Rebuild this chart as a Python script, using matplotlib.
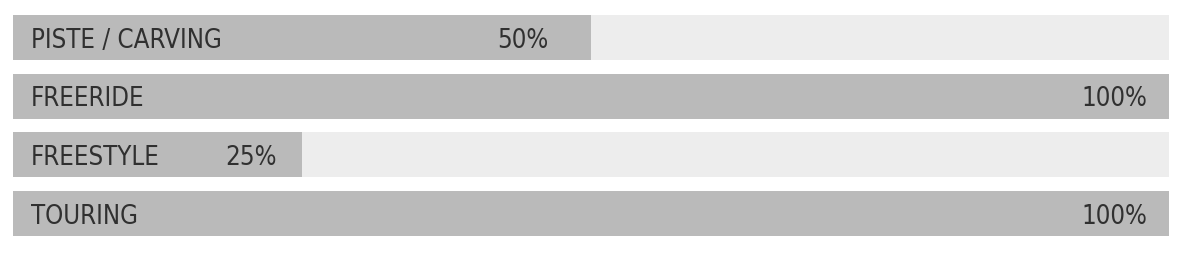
import matplotlib.pyplot as plt
import numpy as np

# ski usage ratings
categories = ["PISTE / CARVING", "FREERIDE", "FREESTYLE", "TOURING"]
values = [50, 100, 25, 100]
value_labels = ["50%", "100%", "25%", "100%"]

W, H = 1200, 262
fig = plt.figure(figsize=(W / 100, H / 100), dpi=100)
fig.patch.set_facecolor("white")

# axes spans the bar area in pixels
left, right, top, bottom = 13, 1169, 15, 235.5
ax = fig.add_axes([left / W, 1 - bottom / H, (right - left) / W, (bottom - top) / H])

pitch = 58.5
bar_h = 45 / pitch
y = np.arange(len(categories))

ax.barh(y, [100] * len(categories), height=bar_h, color="#ededed", linewidth=0)
ax.barh(y, values, height=bar_h, color="#bababa", linewidth=0)

# right edge of the percentage text, in axis percent
label_end = [46.3, 98.1, 22.8, 98.1]
base = 10.5 / pitch
txt = dict(va="baseline", fontsize=18.5, color="#303030",
           family="DejaVu Sans", fontstretch="condensed")
for i, cat in enumerate(categories):
    ax.text(1.56, i + base, cat, ha="left", **txt)
    ax.text(label_end[i], i + base, value_labels[i], ha="right", **txt)

ax.set_xlim(0, 100)
ax.set_ylim(len(categories) - 1 + bar_h / 2, -bar_h / 2)
ax.axis("off")

fig.savefig("out.png", dpi=100, facecolor="white")
